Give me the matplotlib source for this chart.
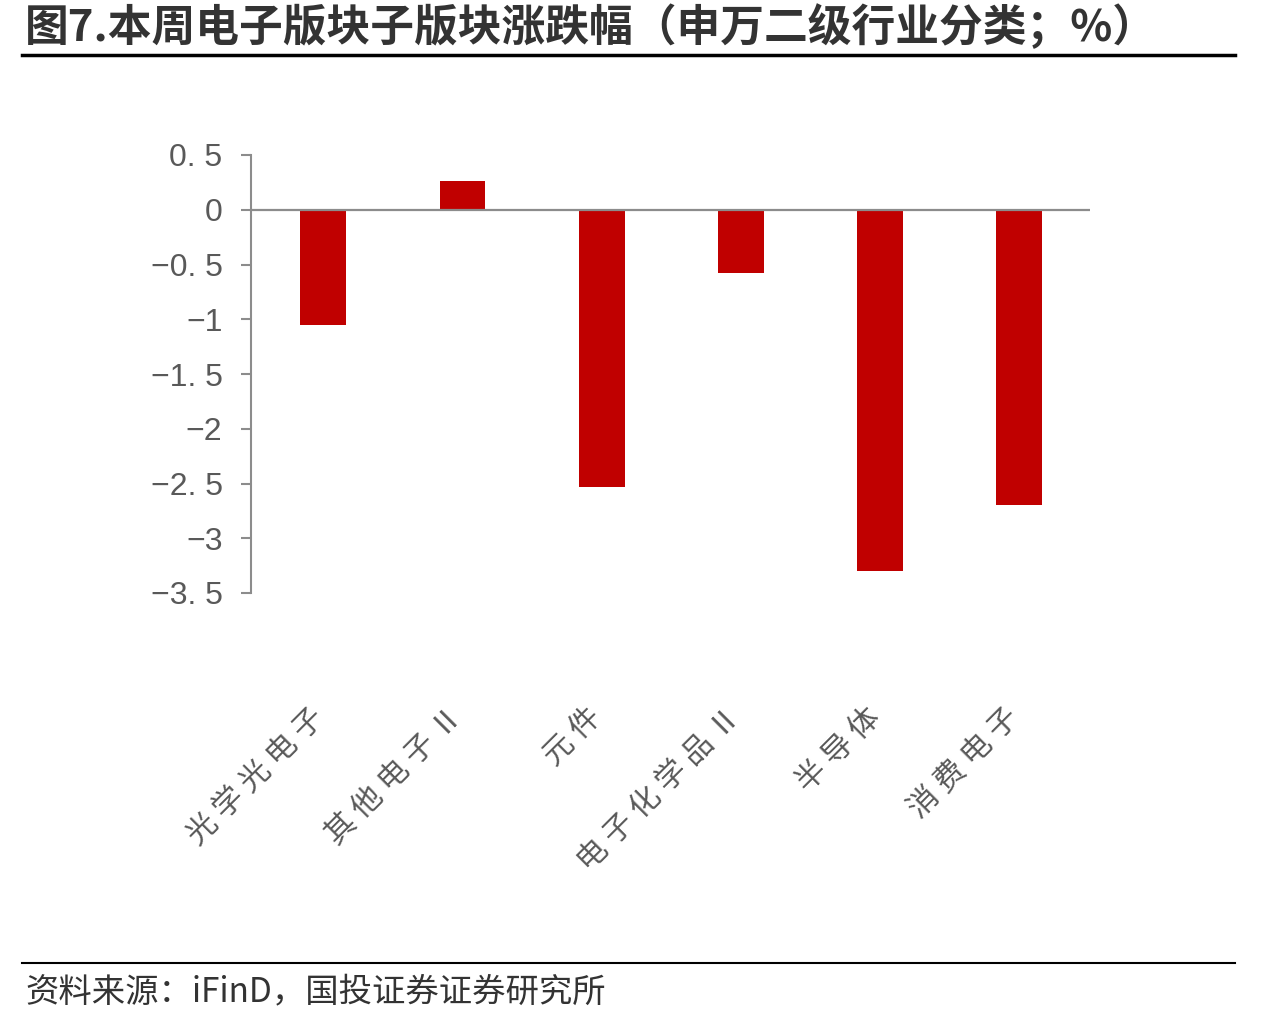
import matplotlib
matplotlib.use("Agg")
import matplotlib.pyplot as plt
from matplotlib.lines import Line2D
import matplotlib.transforms as mtransforms

plt.rcParams['font.family'] = ['Noto Sans CJK SC', 'DejaVu Sans']

title = "图7.本周电子版块子版块涨跌幅（申万二级行业分类；%）"
source = "资料来源：iFinD，国投证券证券研究所"
categories = ["光学光电子", "其他电子Ⅱ", "元件", "电子化学品Ⅱ", "半导体", "消费电子"]
values = [-1.05, 0.26, -2.53, -0.58, -3.30, -2.70]
yticks = [0.5, 0, -0.5, -1, -1.5, -2, -2.5, -3, -3.5]
ytick_labels = ["0. 5", "0", "−0. 5", "−1", "−1. 5", "−2", "−2. 5", "−3", "−3. 5"]

W, H = 1284, 1024
fig = plt.figure(figsize=(W / 100, H / 100), dpi=100)
ax = fig.add_axes([251 / W, 1 - 593 / H, (1090 - 251) / W, (593 - 155) / H])

bar_color = "#C00000"
gray = "#595959"
x = list(range(len(categories)))
ax.bar(x, values, width=0.33, color=bar_color, zorder=2)
ax.axhline(0, color="#8C8C8C", lw=1.6, zorder=3)

ax.set_ylim(-3.5, 0.5)
ax.set_xlim(-0.52, len(categories) - 1 + 0.51)
ax.set_yticks(yticks)
ax.set_yticklabels(ytick_labels, fontsize=23, color=gray,
                   family=["Liberation Sans", "DejaVu Sans"])
ax.tick_params(axis="y", length=7.5, width=1.5, color="#8C8C8C", pad=13)
ax.set_xticks([])
for s in ["top", "right", "bottom"]:
    ax.spines[s].set_visible(False)
ax.spines["left"].set_color("#8C8C8C")
ax.spines["left"].set_linewidth(1.5)

trans = mtransforms.blended_transform_factory(ax.transData, fig.transFigure)
for xi, lab in zip(x, categories):
    spaced = " ".join(lab)
    ax.text(xi + 0.05, 1 - 702 / H, spaced, rotation=45, ha="right", va="top",
            fontsize=22, color=gray, transform=trans)

# title
fig.text(25 / W, 1 - 27 / H, title, fontsize=31.5, fontweight="bold",
         color="#333333", ha="left", va="center")
fig.add_artist(Line2D([22 / W, 1235 / W], [1 - 55 / H, 1 - 55 / H],
                      color="black", lw=2.5, transform=fig.transFigure))
fig.add_artist(Line2D([22 / W, 1235 / W], [1 - 963 / H, 1 - 963 / H],
                      color="black", lw=1.5, transform=fig.transFigure))
fig.text(25 / W, 1 - 992 / H, source, fontsize=24, color="#333333",
         ha="left", va="center")

fig.savefig("out.png", dpi=100)
